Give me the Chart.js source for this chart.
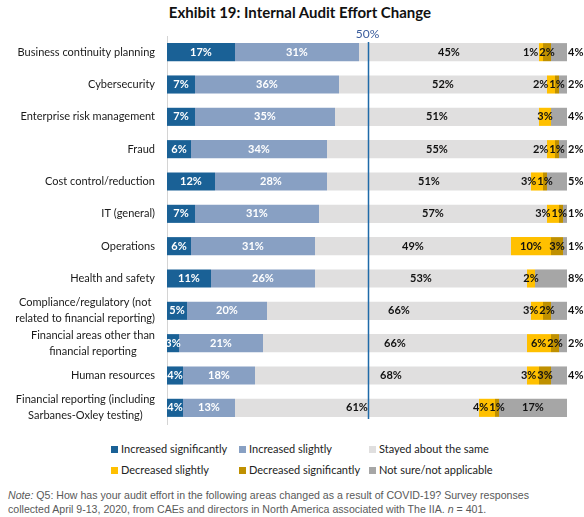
<!DOCTYPE html>
<html>
<head>
<meta charset="utf-8">
<script src="https://cdn.jsdelivr.net/npm/chart.js"></script>
<style>
  html, body { margin: 0; padding: 0; background: #fff; }
  body { width: 584px; height: 517px; position: relative; overflow: hidden; font-family: Lato, sans-serif; }
  #title { position: absolute; left: 0; width: 600px; top: 3px; text-align: center; font-weight: bold; font-size: 15px; color: #111; }
  #wrap { position: absolute; left: 0; top: 0; width: 584px; height: 432px; }
  .leg { position: absolute; font-size: 11px; color: #222; white-space: nowrap; line-height: 14px; }
  .leg span { display: inline-block; width: 7px; height: 7px; margin-right: 3px; vertical-align: 0px; }
  #note { position: absolute; left: 8px; top: 488px; font-family: "Liberation Sans", Arial, sans-serif; font-size: 10.6px; line-height: 14px; color: #595959; white-space: nowrap; }
</style>
</head>
<body>
<div id="title">Exhibit 19: Internal Audit Effort Change</div>
<div id="wrap"><canvas id="chart"></canvas></div>
<div id="legend"></div>
<div id="note"><i>Note:</i> Q5: How has your audit effort in the following areas changed as a result of COVID-19? Survey responses<br>collected April 9-13, 2020, from CAEs and directors in North America associated with The IIA. <i>n</i> = 401.</div>
<script>
const categories = [
  ['Business continuity planning'],
  ['Cybersecurity'],
  ['Enterprise risk management'],
  ['Fraud'],
  ['Cost control/reduction'],
  ['IT (general)'],
  ['Operations'],
  ['Health and safety'],
  ['Compliance/regulatory (not', 'related to financial reporting)'],
  ['Financial areas other than', 'financial reporting'],
  ['Human resources'],
  ['Financial reporting (including', 'Sarbanes-Oxley testing)']
];
const seriesNames = [
  'Increased significantly', 'Increased slightly', 'Stayed about the same',
  'Decreased slightly', 'Decreased significantly', 'Not sure/not applicable'
];
const increasedSignificantly = [17, 7, 7, 6, 12, 7, 6, 11, 5, 3, 4, 4];
const increasedSlightly = [31, 36, 35, 34, 28, 31, 31, 26, 20, 21, 18, 13];
const stayedSame = [45, 52, 51, 55, 51, 57, 49, 53, 66, 66, 68, 61];
const decreasedSlightly = [1, 2, 3, 2, 3, 3, 10, 2, 3, 6, 3, 4];
const decreasedSignificantly = [2, 1, 0, 1, 1, 1, 3, 0, 2, 2, 3, 1];
const notSure = [4, 2, 4, 2, 5, 1, 1, 8, 4, 2, 4, 17];
const referenceLine = 50;

const colors = ['#1a6196', '#88a0c3', '#e0dfdf', '#ffc000', '#bf9000', '#a6a6a6'];
const labelColors = ['#fff', '#fff', '#111', '#111', '#111', '#111'];
const seriesValues = [increasedSignificantly, increasedSlightly, stayedSame, decreasedSlightly, decreasedSignificantly, notSure];

// legend, 3 columns x 2 rows
const legendCols = [111, 239, 369];
const legendRows = [442, 463];
const legendBox = document.getElementById('legend');
seriesNames.forEach((name, i) => {
  const d = document.createElement('div');
  d.className = 'leg';
  d.style.left = legendCols[i % 3] + 'px';
  d.style.top = legendRows[Math.floor(i / 3)] + 'px';
  d.innerHTML = `<span style="background:${colors[i]}"></span>${name}`;
  legendBox.appendChild(d);
});

// y category labels: block right aligned, lines centered (like Excel)
const categoryLabels = {
  id: 'categoryLabels',
  afterDraw(chart) {
    const ctx = chart.ctx;
    const y = chart.scales.y;
    const right = chart.chartArea.left - 12;
    ctx.save();
    ctx.font = '11px Lato';
    ctx.fillStyle = '#1a1a1a';
    ctx.textAlign = 'center';
    ctx.textBaseline = 'middle';
    categories.forEach((lines, i) => {
      const cy = y.getPixelForValue(i);
      const w = Math.max(...lines.map(l => ctx.measureText(l).width));
      const cx = right - w / 2;
      const lh = 16;
      lines.forEach((l, j) => {
        ctx.fillText(l, cx, cy + (j - (lines.length - 1) / 2) * lh);
      });
    });
    ctx.restore();
  }
};

// 50% reference line
const midLine = {
  id: 'midLine',
  afterDatasetsDraw(chart) {
    const ctx = chart.ctx;
    const a = chart.chartArea;
    const x = chart.scales.x.getPixelForValue(referenceLine) + 1.5;
    ctx.save();
    ctx.strokeStyle = '#1f6aa8';
    ctx.lineWidth = 1.5;
    ctx.beginPath();
    ctx.moveTo(x, a.top + 6);
    ctx.lineTo(x, a.bottom - 5);
    ctx.stroke();
    ctx.font = '12px Lato';
    ctx.fillStyle = '#3a5c9c';
    ctx.textAlign = 'center';
    ctx.textBaseline = 'middle';
    ctx.fillText(referenceLine + '%', x - 1, a.top - 2);
    ctx.restore();
  }
};

// value labels, pushed left where they collide
const valueLabels = {
  id: 'valueLabels',
  afterDatasetsDraw(chart) {
    const ctx = chart.ctx;
    ctx.save();
    ctx.font = 'bold 11px Lato';
    ctx.textBaseline = 'middle';
    ctx.textAlign = 'center';
    const n = categories.length;
    const last = seriesValues.length - 1;
    for (let i = 0; i < n; i++) {
      const items = [];
      seriesValues.forEach((vals, d) => {
        const v = vals[i];
        if (!v) return;
        const bar = chart.getDatasetMeta(d).data[i];
        const text = v + '%';
        const w = ctx.measureText(text).width;
        let cx = (bar.base + bar.x) / 2;
        if (d === last && v < 10) cx = bar.x + 1 + w / 2;
        items.push({ d, text, w, cx, cy: bar.y });
      });
      // resolve overlaps among right-hand labels
      for (let k = items.length - 2; k >= 0; k--) {
        const a = items[k], b = items[k + 1];
        if (a.d < 3) break;
        const limit = b.cx - b.w / 2 - 1;
        if (a.cx + a.w / 2 > limit) a.cx = limit - a.w / 2;
      }
      items.forEach(it => {
        ctx.fillStyle = labelColors[it.d];
        ctx.fillText(it.text, it.cx, it.cy);
      });
    }
    ctx.restore();
  }
};

new Chart(document.getElementById('chart'), {
  type: 'bar',
  data: {
    labels: categories.map(c => c.join(' ')),
    datasets: seriesValues.map((vals, i) => ({
      label: seriesNames[i],
      data: vals,
      backgroundColor: colors[i],
      borderWidth: 0,
      categoryPercentage: 1,
      barPercentage: 0.56
    }))
  },
  options: {
    indexAxis: 'y',
    responsive: true,
    maintainAspectRatio: false,
    animation: false,
    layout: { padding: { top: 36, bottom: 8, left: 0, right: 17 } },
    scales: {
      x: { stacked: true, min: 0, max: 100, display: false },
      y: {
        stacked: true,
        ticks: { display: false },
        grid: { display: false },
        border: { display: true, color: '#d4d4d4', width: 1 },
        afterFit(scale) { scale.width = 167; }
      }
    },
    plugins: {
      legend: { display: false },
      tooltip: { enabled: false }
    }
  },
  plugins: [categoryLabels, midLine, valueLabels]
});
</script>
</body>
</html>
